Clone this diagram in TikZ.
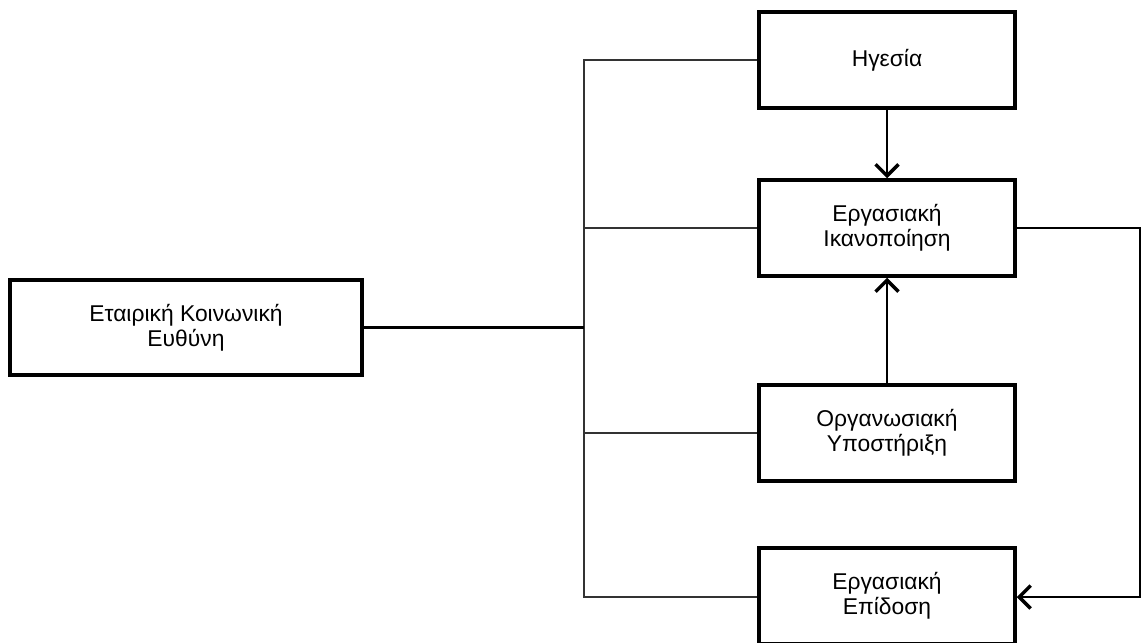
\documentclass[tikz,border=0pt]{standalone}
\usepackage{fontspec}
\setmainfont{Liberation Sans}
\usepackage{tikz}
\usetikzlibrary{arrows.meta}

\tikzset{
    box/.style={draw, line width=2pt, minimum width=5.12cm, minimum height=1.92cm, align=center, font=\fontsize{13}{14.5}\selectfont},
    link/.style={line width=0.7pt, black!80},
    arr/.style={line width=0.7pt, -{Straight Barb[length=6.5pt, width=13pt, line width=2pt]}}
}

\begin{document}
\begin{tikzpicture}[x=0.02cm, y=-0.02cm]
    \useasboundingbox (0, 0) rectangle (1142, 642);
    \clip (0, 0) rectangle (1142, 642);

    % Left box
    \node[box, minimum width=7.04cm, minimum height=1.9cm] (csr) at (186, 327.5) {Εταιρική Κοινωνική\\Ευθύνη};

    % Right column
    \node[box] (leader) at (887, 60) {Ηγεσία};
    \node[box] (satisf) at (887, 228) {Εργασιακή\\Ικανοποίηση};
    \node[box] (support) at (887, 433) {Οργανωσιακή\\Υποστήριξη};
    \node[box] (perform) at (887, 596) {Εργασιακή\\Επίδοση};

    % Bus from the left box
    \coordinate (bustop) at (584, 60);
    \coordinate (busbot) at (584, 597);
    \draw[link] (leader.west) -- (bustop) -- (busbot) -- (perform.west |- busbot);
    \draw[link] (satisf.west) -- (satisf.west -| bustop);
    \draw[link] (support.west) -- (support.west -| bustop);
    \draw[line width=1.3pt] (csr.east) -- (csr.east -| bustop);

    % Arrows into job satisfaction
    \draw[arr] (leader.south) -- (satisf.north);
    \draw[arr] (support.north) -- (satisf.south);

    % Loop on the right
    \coordinate (rightturn) at (1140, 228);
    \draw[arr] (satisf.east) -- (rightturn) |- (perform.east |- busbot);
\end{tikzpicture}
\end{document}
